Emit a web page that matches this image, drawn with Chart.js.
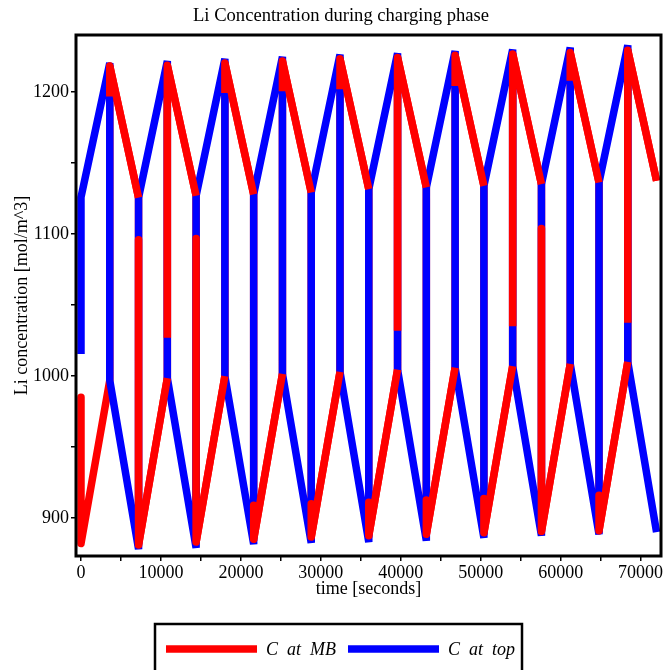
<!DOCTYPE html>
<html>
<head>
<meta charset="utf-8">
<script src="https://cdn.jsdelivr.net/npm/chart.js@4.4.1/dist/chart.umd.min.js"></script>
<style>
  html, body { margin: 0; padding: 0; background: #fff; }
  #wrap { width: 665px; height: 670px; position: relative; }
</style>
</head>
<body>
<div id="wrap"><canvas id="chart"></canvas></div>
<script>
// time in seconds, every switch time is listed twice (value before and after the jump)
const timeSec = [0, 0, 3600, 3600, 7200, 7200, 10800, 10800, 14400, 14400,
    18000, 18000, 21600, 21600, 25200, 25200, 28800, 28800, 32400, 32400,
    36000, 36000, 39600, 39600, 43200, 43200, 46800, 46800, 50400, 50400,
    54000, 54000, 57600, 57600, 61200, 61200, 64800, 64800, 68400, 68400, 72000];

// C at MB (red)
const concMB = [985, 882, 997, 1218.5, 1125.7, 881, 998.5, 1219, 1127, 883,
    1000, 1220.5, 1128, 885, 1001.5, 1222, 1129.3, 886.5, 1003, 1223.5,
    1131.7, 887.5, 1004.5, 1224.5, 1132.9, 888.5, 1006, 1226, 1134, 889.5,
    1007, 1227, 1135.2, 890.5, 1008.5, 1228, 1136.4, 891, 1010, 1229.5, 1137.6];

// C at top (blue)
const concTop = [1015.5, 1126, 1220.5, 997, 878, 1125.7, 1222, 998.5, 879, 1127,
    1223.5, 1000, 881.5, 1128, 1225, 1001.5, 882.5, 1129.3, 1226.5, 1003,
    883, 1131.7, 1227.5, 1004.5, 884, 1132.9, 1229, 1006, 886, 1134,
    1230, 1007, 887.5, 1135.2, 1231.5, 1008.5, 888.5, 1136.4, 1233, 1010, 890];

// at these jumps the red curve lies over the blue one, starting from this value
const redOverTime = [3600, 7200, 10800, 14400, 18000, 21600, 25200, 28800, 32400, 36000,
    39600, 43200, 46800, 50400, 54000, 57600, 61200, 64800, 68400];
const redOverFrom = [1197, 1096, 1027, 1097, 1199.5, 909, 1200.7, 910, 1202, 911,
    1032, 912.6, 1204.3, 913.8, 1035, 1104, 1208, 916, 1037.6];

const xTickValues = [0, 5000, 10000, 15000, 20000, 25000, 30000, 35000, 40000,
    45000, 50000, 55000, 60000, 65000, 70000];
const yTickValues = [900, 950, 1000, 1050, 1100, 1150, 1200];

const serif = "'Liberation Serif', 'Times New Roman', serif";
const RED = "#ff0000";
const BLUE = "#0000ff";

const toPoints = (ys) => ys.map((y, i) => ({ x: timeSec[i], y }));

const redOverlay = [];
redOverTime.forEach((t, j) => {
    const i = timeSec.indexOf(t) + 1;
    redOverlay.push({ x: t, y: redOverFrom[j] });
    redOverlay.push({ x: timeSec[i], y: concMB[i] });
    redOverlay.push({ x: timeSec[i + 1], y: concMB[i + 1] });
    redOverlay.push({ x: timeSec[i + 1], y: null });
});

const framePlugin = {
    id: "frame",
    afterDatasetsDraw(chart) {
        const { ctx, chartArea: a } = chart;
        ctx.save();
        ctx.strokeStyle = "#000";
        ctx.lineWidth = 3;
        ctx.strokeRect(a.left, a.top, a.right - a.left, a.bottom - a.top);
        ctx.restore();
    },
};

const titlePlugin = {
    id: "topTitle",
    afterDraw(chart) {
        const ctx = chart.ctx;
        ctx.save();
        ctx.fillStyle = "#000";
        ctx.font = `18.6px ${serif}`;
        ctx.textAlign = "center";
        ctx.textBaseline = "alphabetic";
        ctx.fillText("Li Concentration during charging phase", 341, 21);
        ctx.restore();
    },
};

const boxLegendPlugin = {
    id: "boxLegend",
    afterDraw(chart) {
        const ctx = chart.ctx;
        ctx.save();
        ctx.strokeStyle = "#000";
        ctx.lineWidth = 2.5;
        ctx.strokeRect(155, 624, 367, 80);
        ctx.font = `italic 18px ${serif}`;
        ctx.textBaseline = "alphabetic";
        ctx.textAlign = "left";
        let x = 166;
        chart.data.datasets
            .filter((ds) => !ds.overlay)
            .forEach((ds) => {
                ctx.strokeStyle = ds.borderColor;
                ctx.lineWidth = 7.5;
                ctx.lineCap = "butt";
                ctx.beginPath();
                ctx.moveTo(x, 649);
                ctx.lineTo(x + 91, 649);
                ctx.stroke();
                x += 100;
                ctx.fillStyle = "#000";
                ctx.fillText(ds.label, x, 655);
                x += ctx.measureText(ds.label).width + 12;
            });
        ctx.restore();
    },
};

const tickFont = { family: serif, size: 18 };

const config = {
    type: "line",
    data: {
        datasets: [
            {
                label: "C  at  MB",
                data: toPoints(concMB),
                borderColor: RED,
                borderWidth: 7.5,
                borderJoinStyle: "round",
                borderCapStyle: "butt",
                pointRadius: 0,
                order: 2,
            },
            {
                label: "C  at  top",
                data: toPoints(concTop),
                borderColor: BLUE,
                borderWidth: 7.5,
                borderJoinStyle: "bevel",
                borderCapStyle: "butt",
                pointRadius: 0,
                order: 1,
            },
            {
                label: "",
                overlay: true,
                data: redOverlay,
                borderColor: RED,
                borderWidth: 7.5,
                borderJoinStyle: "round",
                borderCapStyle: "butt",
                pointRadius: 0,
                spanGaps: false,
                order: 0,
            },
        ],
    },
    options: {
        responsive: true,
        maintainAspectRatio: false,
        animation: false,
        devicePixelRatio: 1,
        layout: { padding: { top: 35, left: 0, right: 4, bottom: 70 } },
        plugins: {
            legend: { display: false },
            tooltip: { enabled: false },
        },
        scales: {
            x: {
                type: "linear",
                min: -625,
                max: 72555,
                afterBuildTicks: (s) => {
                    s.ticks = xTickValues.map((v) => ({ value: v }));
                },
                afterFit: (s) => {
                    s.height = 44;
                },
                border: { display: false },
                grid: {
                    drawOnChartArea: false,
                    drawTicks: true,
                    tickLength: 5,
                    color: "#000",
                    lineWidth: 1.5,
                },
                ticks: {
                    autoSkip: false,
                    maxRotation: 0,
                    padding: 1,
                    color: "#000",
                    font: tickFont,
                    callback: (v) => (v % 10000 === 0 ? String(v) : ""),
                },
                title: {
                    display: true,
                    text: "time [seconds]",
                    color: "#000",
                    font: tickFont,
                    padding: { top: 0, bottom: 0 },
                },
            },
            y: {
                type: "linear",
                min: 873.2,
                max: 1240.3,
                afterBuildTicks: (s) => {
                    s.ticks = yTickValues.map((v) => ({ value: v }));
                },
                afterFit: (s) => {
                    s.width = 76;
                },
                border: { display: false },
                grid: {
                    drawOnChartArea: false,
                    drawTicks: true,
                    tickLength: 5,
                    color: "#000",
                    lineWidth: 1.5,
                },
                ticks: {
                    padding: 2,
                    color: "#000",
                    font: tickFont,
                    callback: (v) => (v % 100 === 0 ? String(v) : ""),
                },
                title: {
                    display: true,
                    text: "Li concentration [mol/m^3]",
                    color: "#000",
                    font: tickFont,
                    padding: { top: 11, bottom: 0 },
                },
            },
        },
    },
    plugins: [framePlugin, titlePlugin, boxLegendPlugin],
};

const ctx = document.getElementById("chart").getContext("2d");
const chart = new Chart(ctx, config);
</script>
</body>
</html>
